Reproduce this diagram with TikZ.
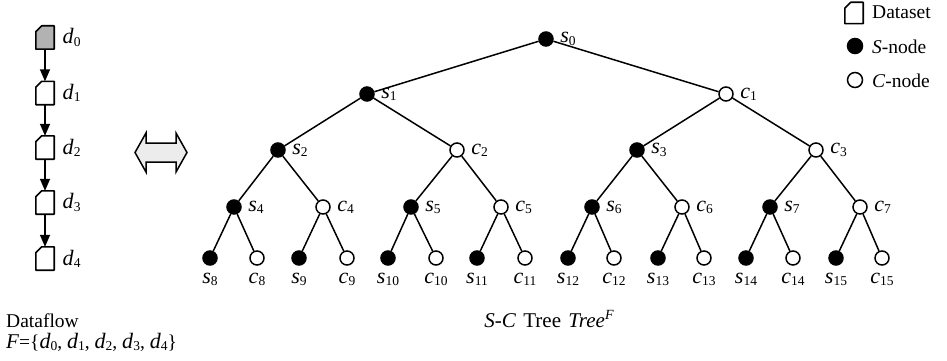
\documentclass[tikz,border=0pt]{standalone}
\usepackage{fontspec}
\setmainfont{Liberation Serif}
\usetikzlibrary{arrows.meta}
% italic letter with an upright, lowered index
\newcommand\ix[2]{{\fontsize{22}{24}\selectfont\textit{#1}}\raisebox{-0.25ex}{\fontsize{13.5}{14}\selectfont#2}}

\tikzset{
  snode/.style={circle,draw,fill=black,line width=1.5pt,inner sep=0pt,minimum size=14pt},
  cnode/.style={circle,draw,fill=white,line width=1.5pt,inner sep=0pt,minimum size=14pt},
  % dataset: a box whose top-left corner is cut off
  dset/.style={rectangle,inner sep=0pt,minimum width=18pt,minimum height=23pt,
    append after command={\pgfextra{\draw[fill=#1,line width=1.6pt,line join=round]
      ([yshift=-6pt]\tikzlastnode.north west) -- ([xshift=6pt]\tikzlastnode.north west)
      -- (\tikzlastnode.north east) -- (\tikzlastnode.south east)
      -- (\tikzlastnode.south west) -- cycle;}}},
  dset/.default=white,
  treeedge/.style={line width=1.5pt},
  flow/.style={line width=1.5pt,-{Triangle[width=10pt,length=12pt]}},
  rl/.style={label={[label distance=3pt]east:#1}},
  bl/.style={label={[label distance=4pt]below:#1}},
}

\begin{document}
\begin{tikzpicture}[x=1pt,y=-1pt,font=\fontsize{19.5}{23}\selectfont]
\useasboundingbox (0,0) rectangle (947,361);

% dataflow
\node[dset=gray!60] (d0) at (45,37.5) {};
\node[dset] (d1) at (45,93) {};
\node[dset] (d2) at (45,147.5) {};
\node[dset] (d3) at (45,202.5) {};
\node[dset] (d4) at (45,258.5) {};
\foreach \i in {0,...,4} {
  \node[anchor=west] (dl\i) at ([xshift=5pt]d\i.east) {\ix{d}{\i}};
}
\draw[flow] (d0) -- (d1);
\draw[flow] (d1) -- (d2);
\draw[flow] (d2) -- (d3);
\draw[flow] (d3) -- (d4);

\node[anchor=base west,inner sep=0pt] (dflabel) at (6,327) {Dataflow};
\node[anchor=base west,inner sep=0pt] (flabel) at (6,348)
  {{\fontsize{21}{24}\selectfont\textit{F}}=\{\ix{d}{0}, \ix{d}{1}, \ix{d}{2}, \ix{d}{3}, \ix{d}{4}\}};

% equivalence arrow
\filldraw[fill=gray!15,line width=1.5pt,line join=miter]
  (135,152.5) -- (146,133) -- (146,143) -- (176,143) -- (176,133) -- (187,152.5)
  -- (176,172) -- (176,162) -- (146,162) -- (146,172) -- cycle;

% S-C tree
\node[snode,rl={\ix{s}{0}}] (s0) at (546,39) {};
\node[snode,rl={\ix{s}{1}}] (s1) at (367,94) {};
\node[cnode,rl={\ix{c}{1}}] (c1) at (726,94) {};
\node[snode,rl={\ix{s}{2}}] (s2) at (278,150) {};
\node[cnode,rl={\ix{c}{2}}] (c2) at (457,150) {};
\node[snode,rl={\ix{s}{3}}] (s3) at (637,150) {};
\node[cnode,rl={\ix{c}{3}}] (c3) at (816,150) {};
\node[snode,rl={\ix{s}{4}}] (s4) at (234,207) {};
\node[cnode,rl={\ix{c}{4}}] (c4) at (323,207) {};
\node[snode,rl={\ix{s}{5}}] (s5) at (411,207) {};
\node[cnode,rl={\ix{c}{5}}] (c5) at (501,207) {};
\node[snode,rl={\ix{s}{6}}] (s6) at (592,207) {};
\node[cnode,rl={\ix{c}{6}}] (c6) at (682,207) {};
\node[snode,rl={\ix{s}{7}}] (s7) at (770,207) {};
\node[cnode,rl={\ix{c}{7}}] (c7) at (860,207) {};

\node[snode,bl={\ix{s}{8}}] (s8) at (210,258) {};
\node[cnode,bl={\ix{c}{8}}] (c8) at (257,258) {};
\node[snode,bl={\ix{s}{9}}] (s9) at (299,258) {};
\node[cnode,bl={\ix{c}{9}}] (c9) at (347,258) {};
\node[snode,bl={\ix{s}{10}}] (s10) at (388,258) {};
\node[cnode,bl={\ix{c}{10}}] (c10) at (436,258) {};
\node[snode,bl={\ix{s}{11}}] (s11) at (477,258) {};
\node[cnode,bl={\ix{c}{11}}] (c11) at (525,258) {};
\node[snode,bl={\ix{s}{12}}] (s12) at (568,258) {};
\node[cnode,bl={\ix{c}{12}}] (c12) at (614,258) {};
\node[snode,bl={\ix{s}{13}}] (s13) at (658,258) {};
\node[cnode,bl={\ix{c}{13}}] (c13) at (704,258) {};
\node[snode,bl={\ix{s}{14}}] (s14) at (746,258) {};
\node[cnode,bl={\ix{c}{14}}] (c14) at (793,258) {};
\node[snode,bl={\ix{s}{15}}] (s15) at (836,258) {};
\node[cnode,bl={\ix{c}{15}}] (c15) at (882,258) {};

\foreach \p/\a/\b in {s0/s1/c1, s1/s2/c2, c1/s3/c3,
    s2/s4/c4, c2/s5/c5, s3/s6/c6, c3/s7/c7,
    s4/s8/c8, c4/s9/c9, s5/s10/c10, c5/s11/c11,
    s6/s12/c12, c6/s13/c13, s7/s14/c14, c7/s15/c15} {
  \draw[treeedge] (\p) -- (\a);
  \draw[treeedge] (\p) -- (\b);
}

\node[anchor=base,inner sep=0pt] (treelabel) at (549,327)
  {\fontsize{21}{24}\selectfont\textit{S}-\textit{C}\hspace{0.1em} Tree\hspace{0.1em} \textit{Tree}\raisebox{0.8ex}{\fontsize{14}{14}\selectfont\textit{F}}};

% legend
\node[dset,minimum height=21pt] (legd) at (854,13) {};
\node[anchor=base west,inner sep=0pt] (legdt) at (872,19) {Dataset};
\node[snode,minimum size=15pt] (legs) at (855,46) {};
\node[anchor=base west,inner sep=0pt] (legst) at (872,53) {\textit{S}-node};
\node[cnode,minimum size=15pt] (legc) at (855,80) {};
\node[anchor=base west,inner sep=0pt] (legct) at (872,87) {\textit{C}-node};
\end{tikzpicture}
\end{document}
